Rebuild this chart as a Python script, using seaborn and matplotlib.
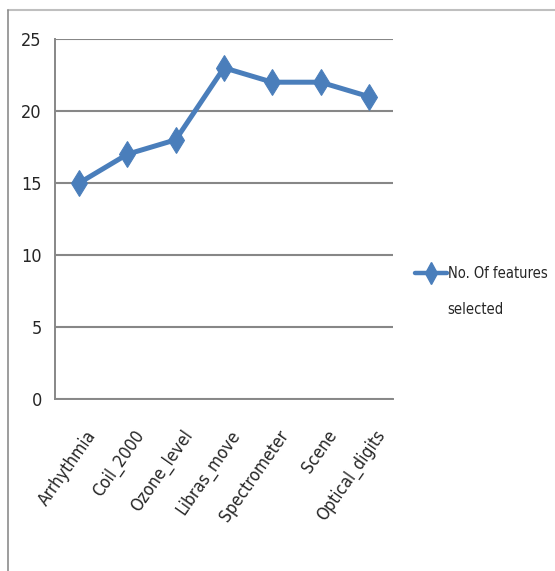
import numpy as np
import pandas as pd
import seaborn as sns
import matplotlib.pyplot as plt
import matplotlib.transforms as mtransforms
from matplotlib.lines import Line2D
from matplotlib.ticker import FixedLocator

datasets = ["Arrhythmia", "Coil_2000", "Ozone_level", "Libras_move",
            "Spectrometer", "Scene", "Optical_digits"]
n_features = [15, 17, 18, 23, 22, 22, 21]
legend_lines = ["No. Of features", "selected"]

df = pd.DataFrame({"dataset": datasets, "features": n_features})

sns.set_style("white")
plt.rcParams["font.family"] = ["DejaVu Sans"]
plt.rcParams["font.stretch"] = "condensed"

blue = "#4A7EBB"
grid_gray = "#878787"

fig = plt.figure(figsize=(5.55, 5.71), dpi=100)
ax = fig.add_axes([0.0991, 0.3012, 0.6090, 0.6305])

sns.lineplot(data=df, x="dataset", y="features", ax=ax, color=blue,
             linewidth=3.6, marker="d", markersize=13, markeredgecolor=blue,
             sort=False)

ax.set_xlim(-0.5, len(datasets) - 0.5)
ax.set_ylim(0, 25)
ax.set_yticks([0, 5, 10, 15, 20, 25])
ax.yaxis.grid(True, color=grid_gray, linewidth=1.5)
ax.set_axisbelow(True)
ax.set_xlabel("")
ax.set_ylabel("")

for side in ["top", "right"]:
    ax.spines[side].set_visible(False)
for side in ["left", "bottom"]:
    ax.spines[side].set_color(grid_gray)
    ax.spines[side].set_linewidth(1.4)

ax.tick_params(axis="y", length=4.5, width=1.4, color=grid_gray, labelsize=13, pad=5)
ax.tick_params(axis="x", which="major", length=0, labelsize=12.5, pad=20)
ax.xaxis.set_minor_locator(FixedLocator(np.arange(-0.5, len(datasets), 1.0)))
ax.tick_params(axis="x", which="minor", length=4.5, width=1.4, color=grid_gray)
shift = mtransforms.ScaledTranslation(4 / 72, 0, fig.dpi_scale_trans)
for lab in ax.get_xticklabels():
    lab.set_rotation(55)
    lab.set_ha("right")
    lab.set_va("top")
    lab.set_rotation_mode("anchor")
    lab.set_transform(lab.get_transform() + shift)

handles = [Line2D([], [], color=blue, linewidth=3.2, marker="d", markersize=11,
                  markeredgecolor=blue),
           Line2D([], [], color="none")]
leg = ax.legend(handles, legend_lines, loc="upper left", bbox_to_anchor=(1.065, 0.37),
                frameon=False, fontsize=10.5, handlelength=2.2, handletextpad=0.05,
                borderpad=0, borderaxespad=0, labelspacing=1.45)

# outer chart border (cut off at right and bottom)
fig.add_artist(Line2D([0.0144, 1.0], [0.9825, 0.9825], color="#BFBFBF", linewidth=1.5))
fig.add_artist(Line2D([0.0144, 0.0144], [0.0, 0.9825], color="#8C8C8C", linewidth=1.2))

fig.savefig("out.png", dpi=100)
